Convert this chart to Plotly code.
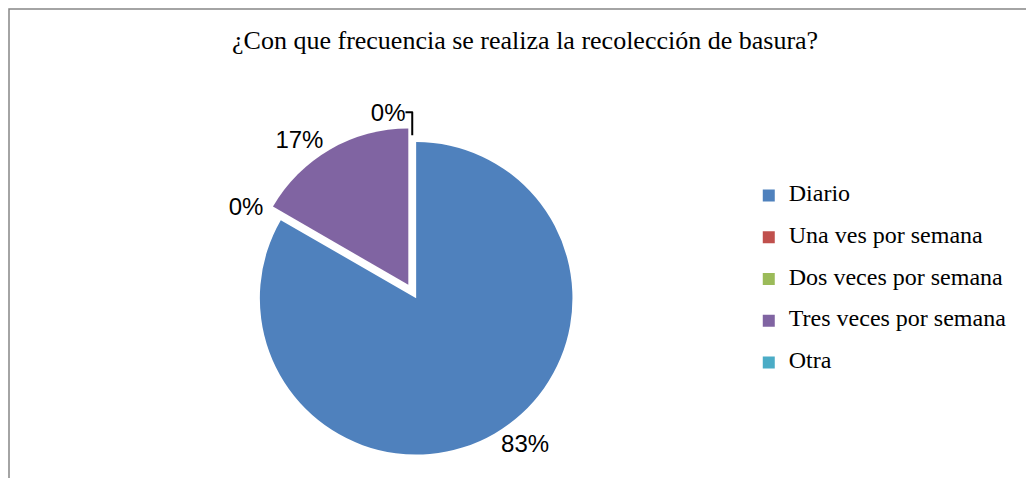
import plotly.graph_objects as go

labels = ["Diario", "Una ves por semana", "Dos veces por semana", "Tres veces por semana", "Otra"]
values = [5, 0, 0, 1, 0]
colors = ["#4F81BD", "#C0504D", "#9BBB59", "#8064A2", "#4BACC6"]
pulls = [0.05, 0.05, 0.0, 0.05, 0.0]
show_label = [True, True, False, True, True]
title_text = "¿Con que frecuencia se realiza la recolección de basura?"

legend_names = [f"<span style='font-size:24px'>{l}</span><br>\u00a0" for l in labels]
templates = ["%{percent:.0%}" if s else "" for s in show_label]

W, H = 1026, 470

fig = go.Figure()
fig.add_trace(go.Pie(
    labels=legend_names, values=values, sort=False, direction="clockwise", rotation=0,
    marker=dict(colors=colors, line=dict(width=0)),
    pull=pulls,
    texttemplate=templates, textposition="outside",
    textfont=dict(family="Liberation Sans", size=24, color="#000000"),
    hovertemplate="%{customdata}: %{percent}<extra></extra>", customdata=labels,
    domain=dict(x=[0.194, 0.594], y=[0.029, 0.741]),
    showlegend=True,
))

x_left = 1 / W
y_top = 1 - 1 / H
fig.add_shape(type="path", xref="paper", yref="paper",
              path=f"M {x_left},-0.2 L {x_left},{y_top} L 1.2,{y_top}",
              line=dict(color="#868686", width=1.5), layer="below")

fig.update_layout(
    width=W, height=H,
    margin=dict(l=0, r=0, t=0, b=0),
    paper_bgcolor="white", plot_bgcolor="white",
    title=dict(text=title_text, x=0.504, xanchor="center", y=1 - 32/H, yanchor="middle",
               font=dict(family="Liberation Serif", size=26, color="#000")),
    legend=dict(x=0.722, y=0.391, xanchor="left", yanchor="middle", valign="top",
                font=dict(family="Liberation Serif", size=14.9, color="#000"),
                itemwidth=30, tracegroupgap=0),
)

fig.write_html("out.html")
